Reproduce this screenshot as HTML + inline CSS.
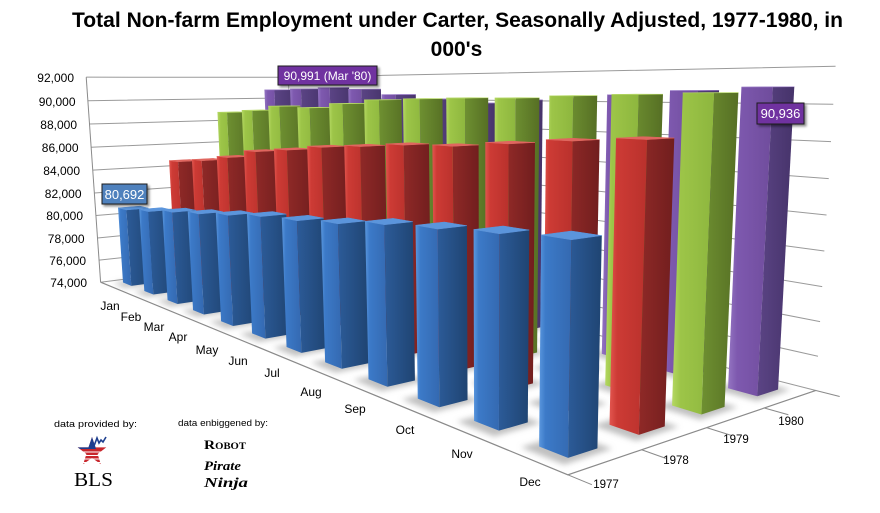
<!DOCTYPE html>
<html><head><meta charset="utf-8">
<style>
html,body{margin:0;padding:0;background:#fff;}
svg{display:block;}
text{font-family:"Liberation Sans",sans-serif;fill:#000;}
</style></head>
<body>
<svg id="c" width="880" height="513" viewBox="0 0 880 513" xmlns="http://www.w3.org/2000/svg">
<defs>
 <linearGradient id="L0" x1="0" y1="0" x2="1" y2="0"><stop offset="0" stop-color="#5a97de"/><stop offset="0.2" stop-color="#3c7ac8"/><stop offset="1" stop-color="#3469b1"/></linearGradient>
 <linearGradient id="D0" x1="0" y1="0" x2="1" y2="0"><stop offset="0" stop-color="#2c5b98"/><stop offset="1" stop-color="#1f4472"/></linearGradient>
 <linearGradient id="L1" x1="0" y1="0" x2="1" y2="0"><stop offset="0" stop-color="#e2564f"/><stop offset="0.2" stop-color="#cd3b35"/><stop offset="1" stop-color="#b9312c"/></linearGradient>
 <linearGradient id="D1" x1="0" y1="0" x2="1" y2="0"><stop offset="0" stop-color="#8f2927"/><stop offset="1" stop-color="#711e1e"/></linearGradient>
 <linearGradient id="L2" x1="0" y1="0" x2="1" y2="0"><stop offset="0" stop-color="#b4d862"/><stop offset="0.2" stop-color="#9dc548"/><stop offset="1" stop-color="#8db63e"/></linearGradient>
 <linearGradient id="D2" x1="0" y1="0" x2="1" y2="0"><stop offset="0" stop-color="#6e9031"/><stop offset="1" stop-color="#566f24"/></linearGradient>
 <linearGradient id="L3" x1="0" y1="0" x2="1" y2="0"><stop offset="0" stop-color="#9475c2"/><stop offset="0.2" stop-color="#7e59af"/><stop offset="1" stop-color="#6f4c9c"/></linearGradient>
 <linearGradient id="D3" x1="0" y1="0" x2="1" y2="0"><stop offset="0" stop-color="#5b4485"/><stop offset="1" stop-color="#46336a"/></linearGradient>
 <filter id="blur" x="-50%" y="-50%" width="200%" height="200%"><feGaussianBlur stdDeviation="3"/></filter>
 <filter id="sh" x="-20%" y="-20%" width="150%" height="160%"><feDropShadow dx="2" dy="2" stdDeviation="1.2" flood-color="#000" flood-opacity="0.45"/></filter>
</defs>
<g id="walls"></g>
<g id="shadows" filter="url(#blur)"></g>
<g id="bars"></g>

<!-- Title -->
<text x="72" y="27" font-size="21" font-weight="bold" textLength="771" lengthAdjust="spacingAndGlyphs">Total Non-farm Employment under Carter, Seasonally Adjusted, 1977-1980,  in</text>
<text x="456.5" y="56" font-size="21" font-weight="bold" text-anchor="middle">000's</text>

<!-- Y axis labels -->
<g font-size="12" text-anchor="end">
<text x="74" y="82">92,000</text>
<text x="75.5" y="106">90,000</text>
<text x="77" y="129">88,000</text>
<text x="78.5" y="152">86,000</text>
<text x="80" y="175">84,000</text>
<text x="81.5" y="198">82,000</text>
<text x="83" y="220">80,000</text>
<text x="84.5" y="243">78,000</text>
<text x="86" y="265">76,000</text>
<text x="87" y="287">74,000</text>
</g>

<!-- Month labels -->
<g font-size="12" text-anchor="middle">
<text x="110" y="310">Jan</text>
<text x="131" y="321">Feb</text>
<text x="154" y="331">Mar</text>
<text x="178" y="341">Apr</text>
<text x="207" y="354">May</text>
<text x="238" y="365">Jun</text>
<text x="272" y="377">Jul</text>
<text x="311" y="396">Aug</text>
<text x="355" y="413">Sep</text>
<text x="405" y="434">Oct</text>
<text x="462" y="458">Nov</text>
<text x="530" y="486">Dec</text>
</g>
<g font-size="11.5" text-anchor="middle">
<text x="606" y="488">1977</text>
<text x="676" y="464">1978</text>
<text x="736" y="443">1979</text>
<text x="791" y="425">1980</text>
</g>

<!-- Data labels -->
<g filter="url(#sh)">
<rect x="102" y="184" width="45" height="20" fill="#4f81bd" stroke="#1a1a1a" stroke-width="1"/>
<rect x="278" y="66" width="99" height="19" fill="#7030a0" stroke="#1a1a1a" stroke-width="1"/>
<rect x="757" y="103" width="47" height="21" fill="#7030a0" stroke="#1a1a1a" stroke-width="1"/>
</g>
<text x="124.5" y="199" font-size="13" text-anchor="middle" style="fill:#fff">80,692</text>
<text x="327.5" y="80" font-size="12" text-anchor="middle" style="fill:#fff">90,991 (Mar '80)</text>
<text x="780.5" y="118" font-size="13" text-anchor="middle" style="fill:#fff">90,936</text>

<!-- Credits -->
<text x="54" y="427" font-size="9" textLength="83" lengthAdjust="spacingAndGlyphs">data provided  by:</text>
<text x="178" y="426" font-size="9" textLength="90" lengthAdjust="spacingAndGlyphs">data enbiggened by:</text>
<!-- BLS star -->
<g>
 <polygon points="92,437 95.5,447.4 106.3,447.4 97.6,454 100.8,464.1 92,458 83.2,464.1 86.4,454 77.7,447.4 88.5,447.4" fill="#c8262c"/>
 <g stroke="#fff" stroke-width="1.1">
  <line x1="78" y1="452" x2="106" y2="452"/>
  <line x1="80" y1="455.5" x2="104" y2="455.5"/>
  <line x1="82" y1="459" x2="102" y2="459"/>
  <line x1="82" y1="462.5" x2="102" y2="462.5"/>
 </g>
 <polygon points="77.7,447.4 88.5,447.4 92,437 95.5,447.4 96,449 80,449" fill="#1d3f8f"/>
 <polyline points="94,446 97,438 99,443 101,440 103,442 106,437" fill="none" stroke="#1d3f8f" stroke-width="1.6"/>
</g>
<text x="74" y="486" font-size="20" textLength="39" lengthAdjust="spacingAndGlyphs" style="font-family:'Liberation Serif',serif">BLS</text>
<text x="204" y="449" font-size="13" font-weight="bold" textLength="42" lengthAdjust="spacingAndGlyphs" style="font-family:'Liberation Serif',serif;font-variant:small-caps">Robot</text>
<text x="204" y="470" font-size="13" font-weight="bold" font-style="italic" textLength="37" lengthAdjust="spacingAndGlyphs" style="font-family:'Liberation Serif',serif">Pirate</text>
<text x="204" y="487" font-size="14" font-weight="bold" font-style="italic" textLength="44" lengthAdjust="spacingAndGlyphs" style="font-family:'Liberation Serif',serif">Ninja</text>
</svg>
<script>
(function(){
var NS="http://www.w3.org/2000/svg";
var P=[
 [0,0,0,100,283],[0,9,0,86,77],[0,5,0,93,171],
 [12,0,0,567,475],[12,0,1,642,452],[12,0,2,707,428],[12,0,3,763,410],[12,0,4,815,391],
 [12,9,4,836,67],[12,5,4,826,213],
 [0.7,0,0.3,131,285],[1.7,0,0.3,153,295],[2.7,0,0.3,177,304],[3.7,0,0.3,205,314],[4.7,0,0.3,233,326],[5.7,0,0.3,267,338],[6.7,0,0.3,303,352],[7.7,0,0.3,342,368],[8.7,0,0.3,387,387],[9.7,0,0.3,438,407],[10.7,0,0.3,497,430],[11.7,0,0.3,568,458],
 [11.7,0,1.3,640,435],[11.7,0,2.3,703,413],[11.7,0,3.3,758,396]
];
var N=11,M=[],r=[],i,j,k,c;
for(i=0;i<N;i++){M.push([]);for(j=0;j<N;j++)M[i].push(0);r.push(0);}
P.forEach(function(p){
 var X=p[0],Y=p[1],Z=p[2],u=(p[3]-440)/440,v=(p[4]-256)/440;
 var eqs=[[[X,Y,Z,1,0,0,0,0,-u*X,-u*Y,-u*Z],u],[[0,0,0,0,X,Y,Z,1,-v*X,-v*Y,-v*Z],v]];
 eqs.forEach(function(e){var a=e[0],b=e[1];for(var i=0;i<N;i++){r[i]+=a[i]*b;for(var j=0;j<N;j++)M[i][j]+=a[i]*a[j];}});
});
for(c=0;c<N;c++){
 var piv=c;for(k=c+1;k<N;k++)if(Math.abs(M[k][c])>Math.abs(M[piv][c]))piv=k;
 var t=M[c];M[c]=M[piv];M[piv]=t;t=r[c];r[c]=r[piv];r[piv]=t;
 for(k=c+1;k<N;k++){var f=M[k][c]/M[c][c];for(j=c;j<N;j++)M[k][j]-=f*M[c][j];r[k]-=f*r[c];}
}
var q=new Array(N);
for(c=N-1;c>=0;c--){var s=r[c];for(j=c+1;j<N;j++)s-=M[c][j]*q[j];q[c]=s/M[c][c];}
function pr(X,Y,Z){var w=q[8]*X+q[9]*Y+q[10]*Z+1;return[(q[0]*X+q[1]*Y+q[2]*Z+q[3])/w*440+440,(q[4]*X+q[5]*Y+q[6]*Z+q[7])/w*440+256];}
function el(tag,attrs,parent){var e=document.createElementNS(NS,tag);for(var a in attrs)e.setAttribute(a,attrs[a]);parent.appendChild(e);return e;}
function pstr(pts){return pts.map(function(p){return p[0].toFixed(2)+","+p[1].toFixed(2);}).join(" ");}
function area(pts){var s=0;for(var i=0;i<pts.length;i++){var a=pts[i],b=pts[(i+1)%pts.length];s+=a[0]*b[1]-b[0]*a[1];}return s;}
var walls=document.getElementById("walls"),shadows=document.getElementById("shadows"),bars=document.getElementById("bars");
// gridlines on side wall (X=0) and back wall (Z=4)
for(k=0;k<=9;k++){
 var a=pr(0,k,0),b=pr(0,k,4),d=pr(12,k,4);
 el("polyline",{points:pstr([a,b,d]),fill:"none",stroke:"#9a9a9a","stroke-width":"1"},walls);
}
var A0=pr(0,0,0),A9=pr(0,9,0);
el("line",{x1:A0[0],y1:A0[1],x2:A9[0],y2:A9[1],stroke:"#8a8a8a","stroke-width":"1"},walls);
var D0=pr(0,0,4),D9=pr(0,9,4);
el("line",{x1:D0[0],y1:D0[1],x2:D9[0],y2:D9[1],stroke:"#b0b0b0","stroke-width":"1"},walls);
var B0=pr(12,0,0),C0=pr(12,0,4);
el("polyline",{points:pstr([A0,B0,C0]),fill:"none",stroke:"#8a8a8a","stroke-width":"1.2"},walls);
for(k=0;k<=4;k++){var t1=pr(12,0,k),t2=pr(12.3,0,k);el("line",{x1:t1[0],y1:t1[1],x2:t2[0],y2:t2[1],stroke:"#8a8a8a","stroke-width":"1"},walls);}
var data=[
 [80692,81000,81402,81731,82097,82482,82687,82992,83442,83720,84011,84280],
 [84594,84948,85461,86163,86509,86918,87183,87480,87616,87955,88296,88553],
 [88808,89055,89479,89417,89789,90108,90217,90300,90328,90481,90576,90671],
 [90800,90883,90991,90849,90420,90101,89840,90099,90213,90490,90747,90936]
];
var tops=["#5b95dc","#e0665f","#b6d966","#9778c5"];
var list=[];
for(var s=0;s<4;s++)for(var m=0;m<12;m++)list.push([m,s]);
list.sort(function(a,b){return (a[0]-a[1])-(b[0]-b[1]) || (b[1]-a[1]);});
// shadows
list.forEach(function(it){
 var m=it[0],s=it[1];
 var pts=[pr(m+0.2,0,s+0.15),pr(m+0.8,0,s+0.15),pr(m+0.8,0,s+0.8),pr(m+0.2,0,s+0.8)];
 el("polygon",{points:pstr(pts),fill:"#8c8c8c","fill-opacity":"0.55"},shadows);
});
// reference sign
var x0=11.3,x1=11.7,z0=0.3,y1=5;
var refSign=Math.sign(area([pr(x0,0,z0),pr(x0,y1,z0),pr(x1,y1,z0),pr(x1,0,z0)]));
list.forEach(function(it){
 var m=it[0],s=it[1],v=data[s][m];
 var X0=m+0.3,X1=m+0.7,Z0=s+0.3,Z1=s+0.7,Y0=0,Y1=(v-74000)/2000;
 var faces=[
  [[[X0,Y0,Z1],[X1,Y0,Z1],[X1,Y1,Z1],[X0,Y1,Z1]],"url(#D"+s+")"],
  [[[X0,Y0,Z0],[X0,Y0,Z1],[X0,Y1,Z1],[X0,Y1,Z0]],"url(#L"+s+")"],
  [[[X0,Y0,Z0],[X0,Y1,Z0],[X1,Y1,Z0],[X1,Y0,Z0]],"url(#L"+s+")"],
  [[[X1,Y0,Z0],[X1,Y1,Z0],[X1,Y1,Z1],[X1,Y0,Z1]],"url(#D"+s+")"],
  [[[X0,Y1,Z0],[X0,Y1,Z1],[X1,Y1,Z1],[X1,Y1,Z0]],tops[s]]
 ];
 faces.forEach(function(f){
  var pts=f[0].map(function(p){return pr(p[0],p[1],p[2]);});
  if(Math.sign(area(pts))!==refSign)return;
  el("polygon",{points:pstr(pts),fill:f[1],stroke:f[1].indexOf("#")===0?f[1]:"none","stroke-width":"0.5","stroke-linejoin":"round"},bars);
 });
});
})();
</script>
</body></html>
